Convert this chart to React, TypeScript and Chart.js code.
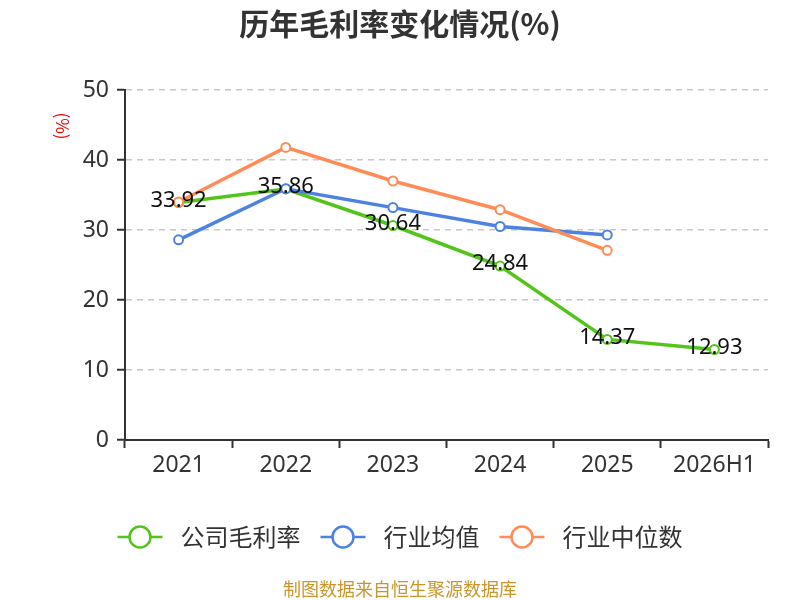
import { useEffect, useRef } from "react"
import { Chart, registerables } from "chart.js"

Chart.register(...registerables)

const categories = ["2021", "2022", "2023", "2024", "2025", "2026H1"]
const companyMargin = [33.92, 35.86, 30.64, 24.84, 14.37, 12.93]
const industryAvg = [28.6, 35.9, 33.2, 30.5, 29.3, null]
const industryMedian = [34.0, 41.8, 37.0, 32.9, 27.1, null]
const seriesNames = ["公司毛利率", "行业均值", "行业中位数"]
const seriesColors = ["#52c41a", "#4e82e2", "#ff8c57"]

const FONT = "'Noto Sans', 'Noto Sans CJK SC', sans-serif"
const CJK = "'Noto Sans CJK SC', sans-serif"

// title, y-axis unit, green value labels, legend and source note
const decorPlugin = {
  id: "decor",
  afterDatasetsDraw(chart: Chart) {
    const ctx = chart.ctx
    const meta = chart.getDatasetMeta(0)
    ctx.save()
    ctx.font = `22px ${FONT}`
    ctx.fillStyle = "#111"
    ctx.textAlign = "center"
    ctx.textBaseline = "middle"
    meta.data.forEach((pt, i) => {
      ctx.fillText(companyMargin[i].toFixed(2), pt.x, pt.y - 2)
    })
    ctx.restore()
  },
  afterDraw(chart: Chart) {
    const ctx = chart.ctx
    ctx.save()
    ctx.textAlign = "center"
    ctx.textBaseline = "middle"

    ctx.font = `bold 30px ${CJK}`
    ctx.fillStyle = "#333"
    ctx.fillText("历年毛利率变化情况(%)", 400, 24)

    ctx.save()
    ctx.translate(62, 126)
    ctx.rotate(Math.PI / 2)
    ctx.font = `17px ${CJK}`
    ctx.fillStyle = "#e00"
    ctx.fillText("(%)", 0, 0)
    ctx.restore()

    // legend
    ctx.font = `24px ${CJK}`
    const y = 537
    const gap = 20
    const items = seriesNames.map((name) => ({ name, w: 63 + ctx.measureText(name).width }))
    const total = items.reduce((s, it) => s + it.w, 0) + gap * (items.length - 1)
    let x = 400 - total / 2
    items.forEach((it, i) => {
      ctx.strokeStyle = seriesColors[i]
      ctx.lineWidth = 2.5
      ctx.beginPath()
      ctx.moveTo(x, y)
      ctx.lineTo(x + 45, y)
      ctx.stroke()
      ctx.beginPath()
      ctx.arc(x + 22.5, y, 10.5, 0, Math.PI * 2)
      ctx.fillStyle = "#fff"
      ctx.fill()
      ctx.stroke()
      ctx.fillStyle = "#333"
      ctx.textAlign = "left"
      ctx.fillText(it.name, x + 63, y)
      x += it.w + gap
    })

    ctx.textAlign = "center"
    ctx.font = `18px ${CJK}`
    ctx.fillStyle = "#c9962b"
    ctx.fillText("制图数据来自恒生聚源数据库", 400, 589)
    ctx.restore()
  },
}

function lineDataset(label: string, data: (number | null)[], color: string, order: number) {
  return {
    label,
    data,
    borderColor: color,
    backgroundColor: "#fff",
    borderWidth: 3.5,
    pointRadius: 4.5,
    pointBorderWidth: 2,
    pointBackgroundColor: "#fff",
    pointBorderColor: color,
    tension: 0,
    order,
  }
}

export function MarginChart() {
  const chartRef = useRef<HTMLCanvasElement>(null)
  const chartInstance = useRef<Chart | null>(null)

  useEffect(() => {
    if (!chartRef.current) return
    document.body.style.margin = "0"

    if (chartInstance.current) {
      chartInstance.current.destroy()
    }

    const ctx = chartRef.current.getContext("2d")
    if (!ctx) return

    chartInstance.current = new Chart(ctx, {
      type: "line",
      data: {
        labels: categories,
        datasets: [
          lineDataset(seriesNames[0], companyMargin, seriesColors[0], 2),
          lineDataset(seriesNames[1], industryAvg, seriesColors[1], 1),
          lineDataset(seriesNames[2], industryMedian, seriesColors[2], 0),
        ],
      },
      options: {
        responsive: false,
        animation: false,
        layout: { padding: { top: 90, right: 32, bottom: 120, left: 0 } },
        scales: {
          x: {
            offset: true,
            afterFit: (scale) => {
              scale.height = 40
            },
            grid: {
              offset: true,
              drawOnChartArea: false,
              drawTicks: true,
              tickLength: 8,
              tickColor: "#333",
              tickWidth: 2,
            },
            border: { color: "#333", width: 2 },
            ticks: { color: "#333", font: { size: 23, family: FONT }, padding: 4 },
          },
          y: {
            min: 0,
            max: 50,
            afterFit: (scale) => {
              scale.width = 125
            },
            grid: {
              color: "#c8c8c8",
              lineWidth: 1.5,
              tickColor: "#333",
              tickLength: 8,
              tickWidth: 2,
            },
            border: { color: "#333", width: 2, dash: [6, 5] },
            ticks: {
              stepSize: 10,
              color: "#333",
              font: { size: 23, family: FONT },
              padding: 8,
            },
          },
        },
        plugins: {
          legend: { display: false },
          title: { display: false },
          tooltip: { enabled: false },
        },
      },
      plugins: [decorPlugin],
    })

    return () => {
      if (chartInstance.current) {
        chartInstance.current.destroy()
        chartInstance.current = null
      }
    }
  }, [])

  return <canvas ref={chartRef} width={800} height={600} style={{ display: "block" }} />
}

export default function App() {
  return <MarginChart />
}
